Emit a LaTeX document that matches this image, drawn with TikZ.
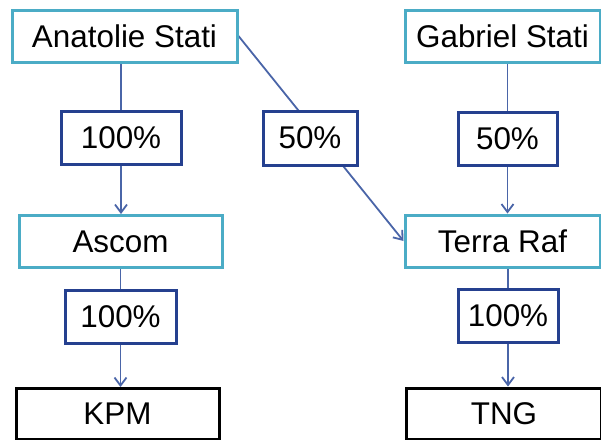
\documentclass[tikz,border=0pt]{standalone}
\usepackage{fontspec}
\setmainfont{Liberation Sans}
\usetikzlibrary{arrows.meta,backgrounds}

\definecolor{holder}{HTML}{4BACC6}
\definecolor{share}{HTML}{25408F}
\definecolor{link}{HTML}{4A65A8}

\begin{document}
\begin{tikzpicture}
  [x=0.5pt,y=-0.5pt,
   every node/.style={font=\fontsize{15.7}{18}\selectfont,inner sep=0pt,fill=white,line width=1.5pt,text=black},
   owner/.style={draw=holder,minimum height=26pt},
   pct/.style={draw=share,minimum height=26.5pt},
   firm/.style={draw=black,minimum height=25.5pt},
   link/.style={draw=link,line width=0.9pt},
   tip/.style={-{Straight Barb[length=4pt,width=6pt]}}]
  \useasboundingbox (0,0) rectangle (601,440);
  \clip (0,0) rectangle (601,440);
  \node[owner,minimum width=112.5pt] (as) at (124.5,36) {Anatolie Stati};
  \node[owner,minimum width=97.5pt] (gs) at (502.5,36) {Gabriel Stati};
  \node[pct,minimum width=60pt] (p1) at (121,138) {100\%};
  \node[pct,minimum width=47pt,minimum height=27pt] (pm) at (310,138) {50\%};
  \node[pct,minimum width=49.5pt] (p3) at (507.5,138.5) {50\%};
  \node[owner,minimum width=101.5pt] (ascom) at (120.5,241.5) {Ascom};
  \node[owner,minimum width=97.5pt] (terra) at (502.5,241) {Terra Raf};
  \node[pct,minimum width=55.5pt] (p2) at (120.5,317) {100\%};
  \node[pct,minimum width=50pt] (p4) at (508,315.5) {100\%};
  \node[firm,minimum width=101.5pt] (kpm) at (117.5,414) {KPM};
  \node[firm,minimum width=97.5pt] (tng) at (504,413.5) {TNG};
  \begin{scope}[on background layer]
    \foreach \from/\to in {as/p1,gs/p3,ascom/p2,terra/p4}
      \draw[link] (\from.south -| \to) -- (\to.north);
    \foreach \from/\to in {p1/ascom,p3/terra,p2/kpm,p4/tng}
      \draw[link,tip] (\from.south) -- (\from.south |- \to.north);
    \draw[link,tip] (as.east) -- (terra.west);
  \end{scope}
\end{tikzpicture}
\end{document}
